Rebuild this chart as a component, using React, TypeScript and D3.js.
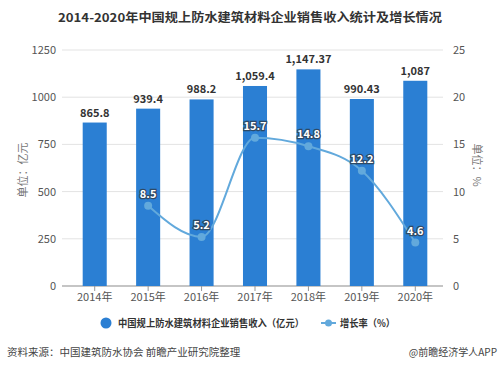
import React from 'react';
import * as d3 from 'd3';

const years = ['2014年', '2015年', '2016年', '2017年', '2018年', '2019年', '2020年'];
const revenue = [865.8, 939.4, 988.2, 1059.4, 1147.37, 990.43, 1087];
const revenueLabels = ['865.8', '939.4', '988.2', '1,059.4', '1,147.37', '990.43', '1,087'];
const growth: (number | null)[] = [null, 8.5, 5.2, 15.7, 14.8, 12.2, 4.6];
const leftTicks = [0, 250, 500, 750, 1000, 1250];
const rightTicks = [0, 5, 10, 15, 20, 25];

const W = 499;
const H = 369;
const font = '"Microsoft YaHei", "Noto Sans CJK SC", sans-serif';

export default function App() {
  const x = d3.scaleBand<string>().domain(years).range([68, 442]).paddingInner(0.55).paddingOuter(0.275);
  const yL = d3.scaleLinear().domain([0, 1250]).range([286, 50]);
  const yR = d3.scaleLinear().domain([0, 25]).range([286, 50]);
  const cx = (d: string) => (x(d) ?? 0) + x.bandwidth() / 2;

  const pts = years.map((y, i) => ({ y, v: growth[i] })).filter(p => p.v !== null) as { y: string; v: number }[];
  const line = d3.line<{ y: string; v: number }>().x(d => cx(d.y)).y(d => yR(d.v)).curve(d3.curveMonotoneX);

  return (
    <svg width={W} height={H} style={{ position: 'absolute', left: 0, top: 0, background: '#fff' }} fontFamily={font}>
      <text x={58} y={22} fontSize={12} fontWeight="bold" fill="#333" textLength={384} lengthAdjust="spacingAndGlyphs">
        2014-2020年中国规上防水建筑材料企业销售收入统计及增长情况
      </text>
      {leftTicks.map(t => (
        <g key={t}>
          <line x1={62} x2={443} y1={yL(t)} y2={yL(t)} stroke="#e3e3e3" />
          <text x={56} y={yL(t) + 4} textAnchor="end" fontSize={11} fill="#555">{t}</text>
        </g>
      ))}
      {rightTicks.map(t => (
        <text key={t} x={453} y={yR(t) + 4} fontSize={11} fill="#555">{t}</text>
      ))}
      <line x1={62} x2={443} y1={286} y2={286} stroke="#999" />
      <text transform="translate(27,170) rotate(-90)" textAnchor="middle" fontSize={11} fill="#777">单位：亿元</text>
      <text transform="translate(473,165) rotate(90)" textAnchor="middle" fontSize={11} fill="#777">单位：%</text>
      {years.map((y, i) => (
        <g key={y}>
          <rect x={x(y)} y={yL(revenue[i])} width={x.bandwidth()} height={286 - yL(revenue[i])} fill="#2b7fd3" />
          <line x1={cx(y)} x2={cx(y)} y1={286} y2={291} stroke="#999" />
          <text x={cx(y)} y={301} textAnchor="middle" fontSize={11} fill="#555">{y}</text>
          <text x={cx(y)} y={yL(revenue[i]) - 6} textAnchor="middle" fontSize={11} fontWeight="bold" fill="#333">{revenueLabels[i]}</text>
        </g>
      ))}
      <path d={line(pts) ?? ''} fill="none" stroke="#62a9dc" strokeWidth={2} />
      {pts.map(p => (
        <g key={p.y}>
          <circle cx={cx(p.y)} cy={yR(p.v)} r={4} fill="#62a9dc" />
          <text x={cx(p.y)} y={yR(p.v) - 8} textAnchor="middle" fontSize={11} fontWeight="bold" fill="#fff" stroke="#2e4a66" strokeWidth={2.5} paintOrder="stroke">{p.v}</text>
        </g>
      ))}
      <circle cx={106} cy={323} r={5.5} fill="#2b7fd3" />
      <text x={118} y={327} fontSize={10} fontWeight="bold" fill="#333" textLength={186} lengthAdjust="spacingAndGlyphs">中国规上防水建筑材料企业销售收入（亿元）</text>
      <line x1={321} x2={336} y1={323} y2={323} stroke="#62a9dc" strokeWidth={2} />
      <circle cx={328.5} cy={323} r={3.5} fill="#62a9dc" />
      <text x={340} y={327} fontSize={10} fontWeight="bold" fill="#333" textLength={55} lengthAdjust="spacingAndGlyphs">增长率（%）</text>
      <text x={7} y={356} fontSize={10.5} fill="#444">资料来源：中国建筑防水协会 前瞻产业研究院整理</text>
      <text x={497} y={356} textAnchor="end" fontSize={10} fill="#444">@前瞻经济学人APP</text>
    </svg>
  );
}
